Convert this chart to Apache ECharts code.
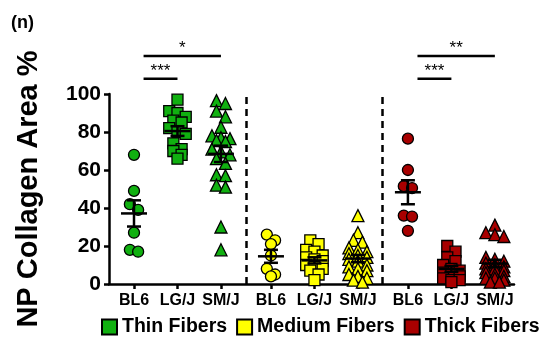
<!DOCTYPE html>
<html>
<head>
<meta charset="utf-8">
<script src="https://cdn.jsdelivr.net/npm/echarts@6/dist/echarts.min.js"></script>
<style>
  html, body { margin: 0; padding: 0; background: #fff; }
  #chart { width: 545px; height: 341px; }
</style>
</head>
<body>
<div id="chart"></div>
<script>
  const strains = ['BL6', 'LG/J', 'SM/J'];
  const fiberTypes = ['Thin Fibers', 'Medium Fibers', 'Thick Fibers'];
  const yTicks = [0, 20, 40, 60, 80, 100];

  // NP collagen area (%) per animal
  const thinBL6 = [68, 49, 42, 39, 27, 18, 17];
  const thinLGJ = [97, 91, 90, 88, 86, 85, 82, 80, 79, 74, 71, 70, 68, 66];
  const thinSMJ = [96.5, 95, 91, 88, 82.5, 78, 77, 76.5, 75.5, 75, 71, 69.5, 68, 66, 63.5, 57.5, 57, 52, 51, 30, 18];
  const mediumBL6 = [26, 23, 21, 15, 8, 5, 4];
  const mediumLGJ = [23, 21, 18, 17, 15, 14, 13, 12, 10, 9, 8, 7, 5, 2];
  const mediumSMJ = [36, 27, 23, 22, 19, 18, 17, 16, 15, 14, 13, 12, 10, 9, 8, 7, 5, 4, 3, 2, 1];
  const thickBL6 = [76.5, 60, 51.5, 50.5, 36, 35.5, 28];
  const thickLGJ = [20, 17, 14, 12, 10, 8, 7, 6, 5, 4, 3, 2, 2, 1];
  const thickSMJ = [31, 27, 26, 25, 14, 13, 12, 11, 10, 9, 8, 8, 7, 6, 5, 4, 3, 3, 2, 1, 1];

  // significance brackets: fiber group, from strain, to strain, height (%), label
  const sigFiber = [0, 0, 2, 2];
  const sigFrom = [0, 0, 0, 0];
  const sigTo = [2, 1, 2, 1];
  const sigLevel = [120, 108, 120, 108];
  const sigLabels = ['*', '***', '**', '***'];

  const groups = [
    [thinBL6, thinLGJ, thinSMJ],
    [mediumBL6, mediumLGJ, mediumSMJ],
    [thickBL6, thickLGJ, thickSMJ],
  ];
  const fillColors = ['#10b010', '#ffff00', '#a80000'];
  const symbols = ['circle', 'rect', 'triangle'];
  const symbolSizes = [11, 11, 12];

  const FONT = 'Liberation Sans, Arial, sans-serif';
  const groupStep = 3.15;
  const xMin = -0.575, xMax = 8.74;
  const gridPos = { left: 109, right: 31, top: 94, bottom: 57 };
  const pos = (f, s) => f * groupStep + s;

  const chartDom = document.getElementById('chart');
  const chart = echarts.init(chartDom);

  const plotW = 545 - gridPos.left - gridPos.right;
  const plotH = 341 - gridPos.top - gridPos.bottom;
  const pxPerX = plotW / (xMax - xMin);
  const pxPerY = plotH / 100;

  // GraphPad-like column scatter: close points go side by side, max 3 in a row
  const swarm = (vals, center, size) => {
    const sorted = vals.slice().sort((a, b) => b - a);
    const rows = [];
    sorted.forEach((v) => {
      const row = rows[rows.length - 1];
      if (row && row.length < 3 && (row[0] - v) * pxPerY < size * 0.55) row.push(v);
      else rows.push([v]);
    });
    const out = [];
    const step = (size * 0.75) / pxPerX;
    rows.forEach((row) => {
      row.forEach((v, i) => {
        out.push([center + (i - (row.length - 1) / 2) * step, v]);
      });
    });
    return out;
  };

  const mean = (a) => a.reduce((s, v) => s + v, 0) / a.length;
  const sem = (a) => {
    const m = mean(a);
    const sd = Math.sqrt(a.reduce((s, v) => s + (v - m) * (v - m), 0) / (a.length - 1));
    return sd / Math.sqrt(a.length);
  };

  const statsData = [];
  const scatterSeries = groups.map((strainVals, f) => {
    const data = [];
    strainVals.forEach((vals, s) => {
      swarm(vals, pos(f, s), symbolSizes[s]).forEach((p) => {
        data.push({ value: p, symbol: symbols[s], symbolSize: symbolSizes[s] });
      });
      const m = mean(vals), e = sem(vals);
      statsData.push([pos(f, s), m, m - e, m + e]);
    });
    const series = {
      name: fiberTypes[f],
      type: 'scatter',
      data,
      z: 2,
      itemStyle: { color: fillColors[f], borderColor: '#000', borderWidth: 1.3, opacity: 1 },
      emphasis: { disabled: true },
    };
    if (f === 0) {
      series.markLine = {
        silent: true,
        symbol: ['none', 'none'],
        label: { show: false },
        lineStyle: { color: '#000', type: [7, 5], width: 2.5 },
        data: [{ xAxis: (pos(0, 2) + pos(1, 0)) / 2 }, { xAxis: (pos(1, 2) + pos(2, 0)) / 2 }],
      };
    }
    return series;
  });

  const bracketData = sigLabels.map((lab, i) => [
    pos(sigFiber[i], sigFrom[i]) + 0.22,
    pos(sigFiber[i], sigTo[i]),
    sigLevel[i],
    lab,
  ]);

  const tickPositions = [];
  const tickNames = [];
  fiberTypes.forEach((_, f) => {
    strains.forEach((s, i) => {
      tickPositions.push(pos(f, i));
      tickNames.push(s);
    });
  });

  const option = {
    animation: false,
    textStyle: { fontFamily: FONT },
    title: {
      text: '(n)',
      left: 6,
      top: 9,
      textStyle: { fontSize: 18, fontWeight: 'bold', color: '#000', fontFamily: FONT },
    },
    legend: {
      data: fiberTypes,
      left: 101,
      top: 317,
      width: 444,
      padding: 0,
      icon: 'rect',
      itemWidth: 15,
      itemHeight: 15,
      itemGap: 9,
      selectedMode: false,
      itemStyle: { borderColor: '#000', borderWidth: 2 },
      textStyle: { fontSize: 19.5, fontWeight: 'bold', color: '#000', fontFamily: FONT },
    },
    grid: gridPos,
    xAxis: {
      type: 'value',
      min: xMin,
      max: xMax,
      splitLine: { show: false },
      axisLine: { show: true, onZero: false, lineStyle: { color: '#000', width: 2.5 } },
      axisTick: { show: true, customValues: tickPositions, length: 5, lineStyle: { color: '#000', width: 2.5 } },
      axisLabel: {
        customValues: tickPositions,
        formatter: (v) => {
          const i = tickPositions.findIndex((t) => Math.abs(t - v) < 1e-6);
          return i >= 0 ? tickNames[i] : '';
        },
        fontSize: 16,
        fontWeight: 'bold',
        color: '#000',
        margin: 9,
        fontFamily: FONT,
      },
    },
    yAxis: {
      type: 'value',
      min: 0,
      max: 100,
      interval: 20,
      name: 'NP Collagen Area %',
      nameLocation: 'middle',
      nameGap: 66,
      nameMoveOverlap: false,
      nameTextStyle: { fontSize: 29, fontWeight: 'bold', color: '#000', fontFamily: FONT },
      splitLine: { show: false },
      axisLine: { show: true, onZero: false, lineStyle: { color: '#000', width: 2.5 } },
      axisTick: { show: true, length: 5, lineStyle: { color: '#000', width: 2.5 } },
      axisLabel: {
        fontSize: 21,
        fontWeight: 'bold',
        color: '#000',
        margin: 8,
        fontFamily: FONT,
        formatter: (v) => (yTicks.includes(v) ? String(v) : ''),
      },
    },
    series: [
      ...scatterSeries,
      {
        name: 'mean ± SEM',
        type: 'custom',
        z: 3,
        silent: true,
        data: statsData,
        encode: { x: 0, y: 1 },
        renderItem: (params, api) => {
          const x = api.value(0);
          const pm = api.coord([x, api.value(1)]);
          const pl = api.coord([x, api.value(2)]);
          const ph = api.coord([x, api.value(3)]);
          const style = { stroke: '#000', lineWidth: 2.5 };
          return {
            type: 'group',
            children: [
              { type: 'line', shape: { x1: pm[0] - 13, y1: pm[1], x2: pm[0] + 13, y2: pm[1] }, style },
              { type: 'line', shape: { x1: pl[0], y1: pl[1], x2: ph[0], y2: ph[1] }, style },
              { type: 'line', shape: { x1: pl[0] - 7, y1: pl[1], x2: pl[0] + 7, y2: pl[1] }, style },
              { type: 'line', shape: { x1: ph[0] - 7, y1: ph[1], x2: ph[0] + 7, y2: ph[1] }, style },
            ],
          };
        },
      },
      {
        name: 'significance',
        type: 'custom',
        z: 3,
        silent: true,
        clip: false,
        data: bracketData,
        encode: { x: 0, y: 2 },
        renderItem: (params, api) => {
          const p1 = api.coord([api.value(0), api.value(2)]);
          const p2 = api.coord([api.value(1), api.value(2)]);
          const label = sigLabels[params.dataIndex];
          return {
            type: 'group',
            children: [
              { type: 'line', shape: { x1: p1[0], y1: p1[1], x2: p2[0], y2: p2[1] }, style: { stroke: '#000', lineWidth: 2.5 } },
              {
                type: 'text',
                style: {
                  text: label,
                  x: (p1[0] + p2[0]) / 2,
                  y: p1[1] + 1,
                  align: 'center',
                  verticalAlign: 'bottom',
                  fontSize: 17,
                  fontFamily: FONT,
                  fill: '#000',
                },
              },
            ],
          };
        },
      },
    ],
  };

  chart.setOption(option);

  window.addEventListener('resize', () => {
    chart && chart.resize();
  });
</script>
</body>
</html>
